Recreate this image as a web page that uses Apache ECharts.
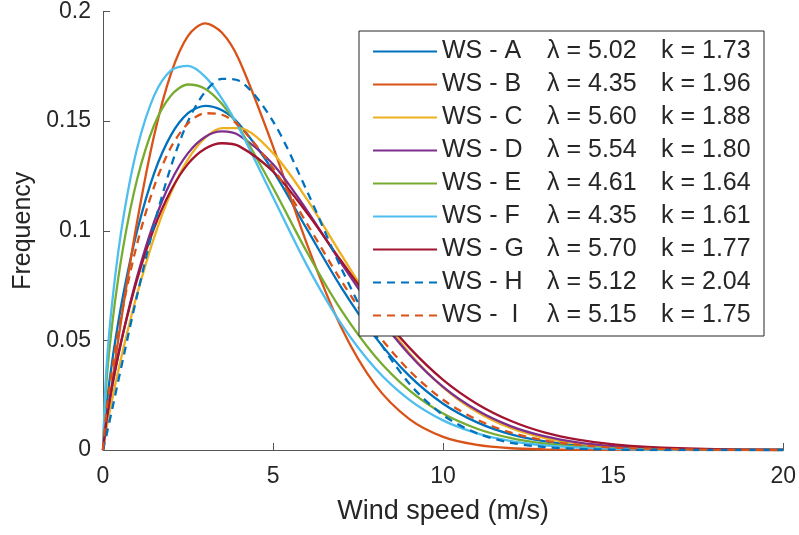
<!DOCTYPE html>
<html>
<head>
<meta charset="utf-8">
<script src="https://cdn.jsdelivr.net/npm/echarts@6/dist/echarts.min.js"></script>
<style>
  html, body { margin: 0; padding: 0; background: #fff; }
  #chart { width: 799px; height: 535px; }
</style>
</head>
<body>
<div id="chart"></div>
<script>
// wind speed samples (m/s)
const windSpeed = [0, 0.1, 0.3, 0.6, 1, 1.5, 2, 2.5, 3, 3.5, 4, 5, 6, 7, 8, 9, 10, 11, 12, 13, 14, 15, 16, 18, 20];

// frequency at the wind speeds above
const wsA = [0, 0.0197, 0.0437, 0.0713, 0.0998, 0.1261, 0.1436, 0.1536, 0.1570, 0.1550, 0.1487, 0.1273, 0.1006, 0.0743, 0.0516, 0.0339, 0.0211, 0.0126, 0.0071, 0.0039, 0.0020, 0.0010, 0.0005, 0.0001, 0];
const wsB = [0, 0.0120, 0.0344, 0.0659, 0.1039, 0.1432, 0.1718, 0.1889, 0.1946, 0.1903, 0.1780, 0.1384, 0.0938, 0.0561, 0.0298, 0.0142, 0.0060, 0.0023, 0.0008, 0.0003, 0.0001, 0, 0, 0, 0];
const wsC = [0, 0.0097, 0.0254, 0.0463, 0.0709, 0.0968, 0.1174, 0.1326, 0.1423, 0.1468, 0.1468, 0.1354, 0.1143, 0.0892, 0.0650, 0.0444, 0.0286, 0.0173, 0.0099, 0.0054, 0.0028, 0.0014, 0.0006, 0.0001, 0];
const wsD = [0, 0.0131, 0.0314, 0.0539, 0.0789, 0.1039, 0.1226, 0.1354, 0.1428, 0.1453, 0.1435, 0.1303, 0.1092, 0.0854, 0.0628, 0.0437, 0.0288, 0.0181, 0.0108, 0.0062, 0.0034, 0.0018, 0.0009, 0.0002, 0];
const wsE = [0, 0.0306, 0.0612, 0.0931, 0.1233, 0.1480, 0.1617, 0.1667, 0.1648, 0.1578, 0.1471, 0.1196, 0.0902, 0.0639, 0.0428, 0.0273, 0.0166, 0.0097, 0.0054, 0.0029, 0.0015, 0.0007, 0.0004, 0.0001, 0];
const wsF = [0, 0.0370, 0.0715, 0.1061, 0.1374, 0.1615, 0.1731, 0.1752, 0.1703, 0.1602, 0.1468, 0.1153, 0.0841, 0.0576, 0.0373, 0.0230, 0.0135, 0.0076, 0.0041, 0.0021, 0.0011, 0.0005, 0.0002, 0, 0];
const wsG = [0, 0.0138, 0.0320, 0.0538, 0.0776, 0.1011, 0.1185, 0.1305, 0.1374, 0.1399, 0.1386, 0.1270, 0.1081, 0.0863, 0.0652, 0.0468, 0.0320, 0.0210, 0.0132, 0.0079, 0.0046, 0.0026, 0.0014, 0.0004, 0.0001];
const wsH = [0, 0.0066, 0.0208, 0.0423, 0.0703, 0.1024, 0.1294, 0.1500, 0.1633, 0.1693, 0.1684, 0.1499, 0.1180, 0.0831, 0.0528, 0.0304, 0.0159, 0.0076, 0.0033, 0.0013, 0.0005, 0.0002, 0, 0, 0];
const wsI = [0, 0.0177, 0.0400, 0.0662, 0.0939, 0.1200, 0.1381, 0.1490, 0.1536, 0.1529, 0.1479, 0.1286, 0.1032, 0.0773, 0.0544, 0.0363, 0.0229, 0.0138, 0.0079, 0.0043, 0.0023, 0.0011, 0.0006, 0.0001, 0];

// legend entries
const siteNames = ['WS - A', 'WS - B', 'WS - C', 'WS - D', 'WS - E', 'WS - F', 'WS - G', 'WS - H', 'WS -  I'];
const lambdas = ['5.02', '4.35', '5.60', '5.54', '4.61', '4.35', '5.70', '5.12', '5.15'];
const shapes = ['1.73', '1.96', '1.88', '1.80', '1.64', '1.61', '1.77', '2.04', '1.75'];

const xTicks = [0, 5, 10, 15, 20];
const yTicks = [0, 0.05, 0.1, 0.15, 0.2];

const allSeries = [wsA, wsB, wsC, wsD, wsE, wsF, wsG, wsH, wsI];
const colors = ['#0072BD', '#D95319', '#EDB120', '#7E2F8E', '#77AC30', '#4DBEEE', '#A2142F', '#0072BD', '#D95319'];
const dashed = [false, false, false, false, false, false, false, true, true];

const FONT = '"Liberation Sans", Arial, Helvetica, sans-serif';
const TEXT = '#262626';

const chart = echarts.init(document.getElementById('chart'), null, { renderer: 'canvas' });

const series = allSeries.map((vals, i) => ({
  name: siteNames[i],
  type: 'line',
  data: windSpeed.map((x, j) => [x, vals[j]]),
  smooth: 0.3,
  showSymbol: false,
  symbol: 'none',
  lineStyle: {
    color: colors[i],
    width: 2.3,
    type: dashed[i] ? [8, 6] : 'solid'
  },
  itemStyle: { color: colors[i] },
  emphasis: { disabled: true }
}));

const option = {
  animation: false,
  backgroundColor: '#fff',
  textStyle: { fontFamily: FONT, color: TEXT },
  grid: { left: 103, right: 14, top: 10, bottom: 85 },
  legend: {
    orient: 'vertical',
    left: 359,
    top: 31,
    padding: [8, 11, 8, 13],
    backgroundColor: '#fff',
    borderColor: TEXT,
    borderWidth: 1,
    itemWidth: 64,
    itemHeight: 2,
    itemGap: 8,
    itemStyle: { opacity: 0 },
    data: siteNames,
    formatter: function (name) {
      const i = siteNames.indexOf(name);
      return '{n|' + name + '}{l|λ = ' + lambdas[i] + '}{k|k = ' + shapes[i] + '}';
    },
    textStyle: {
      fontFamily: FONT,
      fontSize: 25,
      color: TEXT,
      lineHeight: 25,
      rich: {
        n: { width: 105, fontSize: 25, fontFamily: FONT, color: TEXT },
        l: { width: 114, fontSize: 25, fontFamily: FONT, color: TEXT },
        k: { width: 92, fontSize: 25, fontFamily: FONT, color: TEXT }
      }
    }
  },
  xAxis: {
    type: 'value',
    min: xTicks[0],
    max: xTicks[xTicks.length - 1],
    interval: xTicks[1] - xTicks[0],
    name: 'Wind speed (m/s)',
    nameLocation: 'middle',
    nameGap: 48,
    nameTextStyle: { fontSize: 27, color: TEXT, fontFamily: FONT },
    axisLine: { show: true, onZero: false, lineStyle: { color: '#555', width: 1 } },
    axisTick: { show: true, inside: true, length: 7, lineStyle: { color: '#555' } },
    axisLabel: { fontSize: 23, color: TEXT, margin: 15, fontFamily: FONT },
    splitLine: { show: false }
  },
  yAxis: {
    type: 'value',
    min: yTicks[0],
    max: yTicks[yTicks.length - 1],
    interval: yTicks[1] - yTicks[0],
    name: 'Frequency',
    nameLocation: 'middle',
    nameGap: 67,
    nameTextStyle: { fontSize: 25, color: TEXT, fontFamily: FONT },
    axisLine: { show: true, lineStyle: { color: '#555', width: 1 } },
    axisTick: { show: true, inside: true, length: 7, lineStyle: { color: '#555' } },
    axisLabel: { fontSize: 23, color: TEXT, margin: 12, fontFamily: FONT },
    splitLine: { show: false }
  },
  series: series
};

chart.setOption(option);
</script>
</body>
</html>
